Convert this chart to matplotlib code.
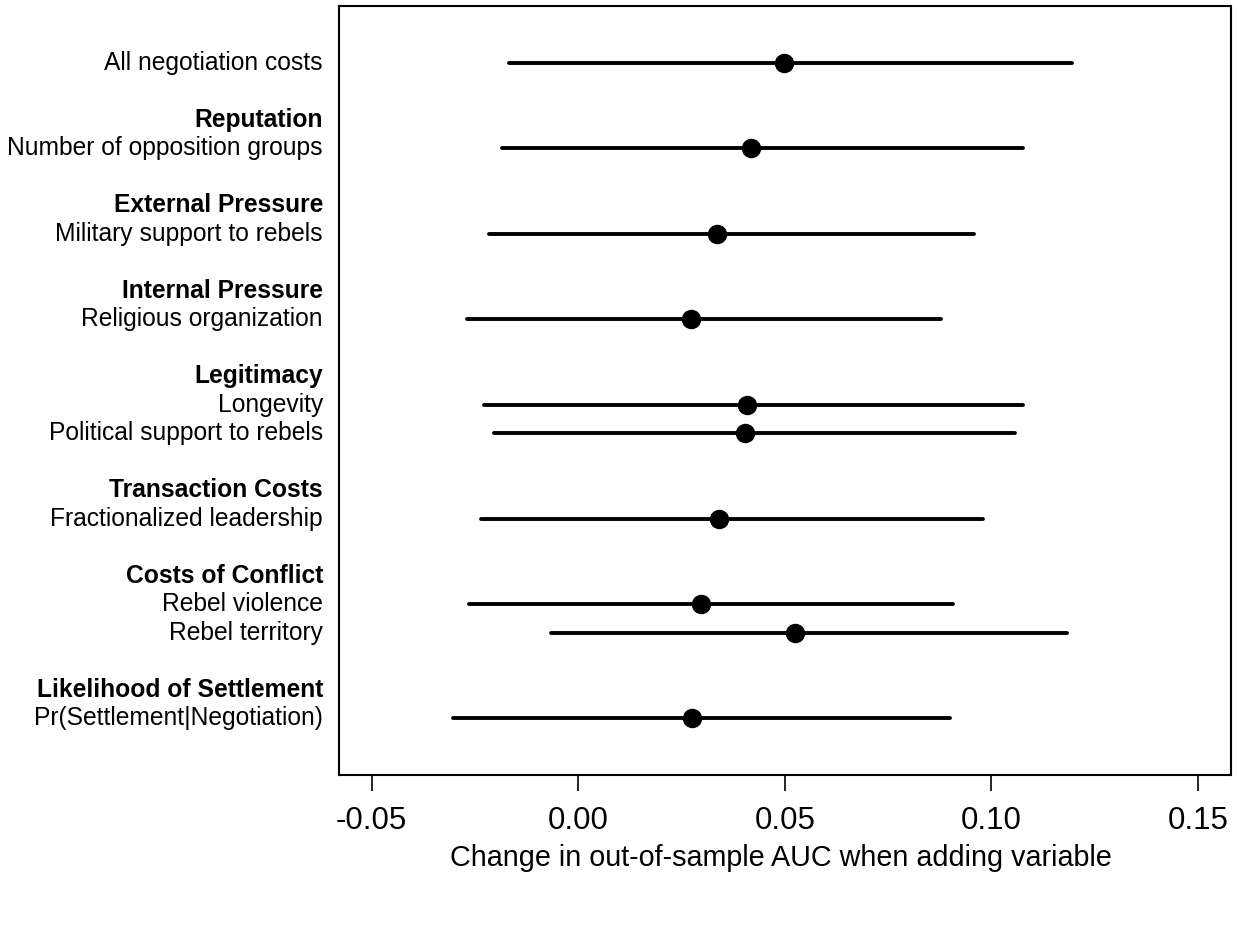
import matplotlib
matplotlib.use("Agg")
import matplotlib.pyplot as plt

plt.rcParams.update({"font.family": ["Liberation Sans", "DejaVu Sans"]})

# groups of variables (header, variables)
headers = [None, "Reputation", "External Pressure", "Internal Pressure", "Legitimacy",
           "Transaction Costs", "Costs of Conflict", "Likelihood of Settlement"]
group_vars = [
    ["All negotiation costs"],
    ["Number of opposition groups"],
    ["Military support to rebels"],
    ["Religious organization"],
    ["Longevity", "Political support to rebels"],
    ["Fractionalized leadership"],
    ["Rebel violence", "Rebel territory"],
    ["Pr(Settlement|Negotiation)"],
]
# change in AUC: estimate, lower and upper bound (same order as variables)
estimate = [0.0497, 0.0418, 0.0337, 0.0274, 0.0408, 0.0403, 0.0340, 0.0298, 0.0524, 0.0275]
lower = [-0.0168, -0.0184, -0.0217, -0.0270, -0.0229, -0.0204, -0.0235, -0.0265, -0.0065, -0.0304]
upper = [0.1195, 0.1076, 0.0957, 0.0878, 0.1076, 0.1057, 0.0979, 0.0908, 0.1183, 0.0900]
xticks = [-0.05, 0.00, 0.05, 0.10, 0.15]

# row layout: header row, variable rows, blank row between groups
label_rows, var_rows = [], []
r = 0
for h, vs in zip(headers, group_vars):
    if h is not None:
        label_rows.append((r, h, True)); r += 1
    for v in vs:
        label_rows.append((r, v, False)); var_rows.append(r); r += 1
    r += 1

fig = plt.figure(figsize=(12.38, 9.32), dpi=100)
ax = fig.add_axes([0.2735, 0.1685, 0.7209, 0.8251])

ax.hlines(var_rows, lower, upper, color="black", lw=2.8, capstyle="round", zorder=2)
ax.plot(estimate, var_rows, "o", color="black", ms=13, zorder=3)

ax.set_xlim(-0.058, 0.158)
ax.set_ylim(25, -2)
ax.set_xticks(xticks)
ax.set_xticklabels([f"{t:.2f}" for t in xticks], fontsize=22.5)
ax.tick_params(axis="x", length=11.5, width=1.2, pad=11)
ax.set_yticks([])
for s in ax.spines.values():
    s.set_linewidth(1.5)

for y, txt, bold in label_rows:
    ax.text(-0.0175, y, txt, ha="right", va="center", fontsize=17.7,
            fontweight="bold" if bold else "normal",
            transform=ax.get_yaxis_transform(), clip_on=False)

fig.text(0.631, 0.0794, "Change in out-of-sample AUC when adding variable", ha="center",
         va="center", fontsize=20.7)

fig.savefig("out.png", dpi=100)
